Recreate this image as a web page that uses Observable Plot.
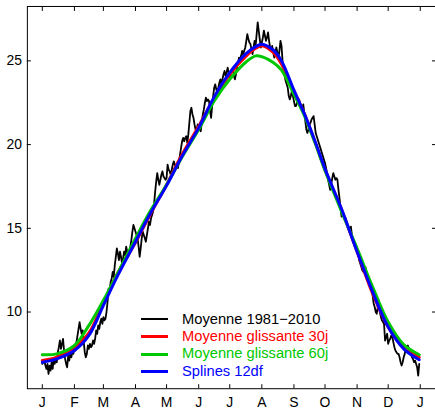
<!DOCTYPE html>
<html><head><meta charset="utf-8">
<script src="https://cdn.jsdelivr.net/npm/d3@7"></script>
<script src="https://cdn.jsdelivr.net/npm/@observablehq/plot@0.6"></script>
<style>
html,body{margin:0;padding:0;background:#fff;overflow:hidden;}
#wrap{position:relative;width:435px;height:409px;overflow:hidden;font-family:"Liberation Sans",Arial,sans-serif;}
#legend{position:absolute;left:141px;top:310.6px;font-size:14.7px;line-height:17.4px;}
#legend .row{display:flex;align-items:center;height:17.4px;white-space:nowrap;}
#legend .sw{width:27px;height:3px;margin-right:14px;}
</style></head>
<body><div id="wrap"><div id="chart"></div>
<div id="legend"></div></div>
<script>
// Month tick positions (day of year) and labels
const monthStartDays = [1,32,60,91,121,152,182,213,244,274,305,335,366];
const monthLabels = ["J","F","M","A","M","J","J","A","S","O","N","D","J"];
const yTicks = [10,15,20,25];

// Daily mean 1981–2010 (day 1..365)
const dailyMean = [
// Jan
6.9,7.0,7.1,6.8,6.6,6.9,6.3,6.8,6.5,7.0,6.6,7.2,6.9,7.3,7.0,7.6,7.9,8.3,7.8,8.1,8.4,7.7,7.2,6.9,6.7,7.4,7.1,7.5,7.3,7.6,7.5,
// Feb
7.8,7.7,8.2,8.6,9.0,9.4,9.0,8.7,8.9,8.2,7.6,7.3,7.5,8.0,7.8,8.1,7.9,8.0,8.3,8.1,8.4,8.9,8.7,9.2,9.0,9.4,9.6,9.3,
// Mar
9.7,9.5,9.6,10.0,10.6,11.4,11.2,11.8,12.0,12.4,12.1,12.8,13.3,13.8,13.5,13.1,13.6,13.3,12.9,13.2,13.6,13.4,13.9,13.6,13.3,13.5,13.9,14.3,14.8,15.2,15.0,
// Apr
14.8,14.6,14.4,13.9,13.3,13.8,14.4,14.8,14.6,14.4,14.2,14.6,15.0,15.4,15.2,15.6,15.8,16.0,16.5,17.2,17.8,18.3,17.9,17.6,17.9,18.2,18.4,18.1,18.0,17.9,
// May
18.0,18.8,18.5,18.4,18.2,18.5,18.8,19.0,18.8,18.6,18.7,18.6,19.0,19.4,19.8,20.2,20.4,20.2,20.4,20.5,20.1,20.6,21.3,22.0,22.2,21.8,21.6,21.2,20.9,20.8,21.2,
// Jun
21.0,20.9,20.8,21.3,21.8,22.1,22.5,22.8,22.6,22.7,22.6,22.0,21.6,22.3,22.9,23.4,23.6,23.3,23.1,23.4,23.7,23.9,23.6,23.9,24.2,24.4,24.1,24.3,24.6,24.3,
// Jul
24.0,24.2,24.4,24.6,24.1,23.9,24.2,24.6,24.9,25.2,25.1,25.3,25.6,25.4,25.6,25.8,26.2,26.6,26.3,26.1,26.0,25.7,25.4,25.8,26.2,25.9,26.6,27.3,26.8,26.3,25.8,
// Aug
26.1,26.4,26.8,26.5,26.2,26.4,26.7,26.2,25.8,25.6,25.9,25.5,25.2,25.5,25.8,25.5,25.2,25.6,26.2,25.9,25.0,24.6,24.1,23.8,23.6,23.4,22.9,22.7,22.9,23.2,22.9,
// Sep
22.6,22.3,22.3,22.5,22.7,22.7,22.4,22.2,22.1,22.4,21.9,21.4,20.9,20.7,20.9,21.2,21.3,21.5,21.6,21.7,21.2,20.7,20.5,20.3,20.1,19.9,19.7,19.5,19.3,19.1,
// Oct
18.9,18.6,18.3,17.9,17.6,17.3,17.6,18.0,18.3,18.1,17.9,18.0,17.9,17.3,16.8,16.2,15.7,15.9,15.7,15.5,15.6,15.3,15.2,14.9,14.9,15.1,14.6,14.3,14.1,14.0,13.8,
// Nov
13.7,13.5,13.1,12.9,12.7,12.5,12.4,12.5,12.7,12.4,12.2,12.1,11.9,11.7,11.5,11.0,10.5,10.3,10.0,9.9,10.3,10.7,10.0,9.7,9.5,9.4,9.3,8.3,8.5,8.7,
// Dec
8.1,8.3,8.4,8.6,8.5,8.2,7.9,7.7,7.6,7.5,7.5,7.3,7.0,6.8,7.0,7.3,7.5,7.8,7.9,8.0,7.8,7.7,7.5,7.3,7.2,7.0,7.1,6.9,6.7,6.2,6.9
];

// Smoothed curves, sampled at these days
const knotDays = [1,15,32,46,60,74,91,105,121,135,152,167,182,198,207,213,224,232,244,254,265,274,290,305,320,335,350,365];
const ma30 =     [7.1,7.3,7.9,8.75,10.55,12.35,14.15,15.8,17.6,19.3,21.1,22.8,24.2,25.3,25.75,25.9,25.5,24.8,23.2,21.85,20.05,18.5,16.1,13.6,11.1,9.1,7.9,7.3];
const ma60 =     [7.45,7.5,8.0,9.2,10.7,12.35,14.4,16.0,17.6,19.15,20.9,22.6,23.9,24.95,25.3,25.25,24.9,24.45,23.0,21.75,20.0,18.45,16.0,13.8,11.5,9.4,8.05,7.45];
const spline12 = [7.0,7.2,7.7,8.6,10.4,12.2,14.2,15.85,17.55,19.2,21.0,22.85,24.3,25.45,25.85,26.0,25.65,25.0,23.25,21.85,20.1,18.55,16.15,13.6,11.2,9.1,7.8,7.15];

const seriesNames = ["Moyenne 1981\u22122010","Moyenne glissante 30j","Moyenne glissante 60j","Splines 12df"];
const seriesColors = ["#000000","#ff0000","#00c800","#0000ff"];

const daily = dailyMean.map((t,i)=>({day:i+1,t}));
const smooth = (vals)=>vals.map((t,i)=>({day:knotDays[i],t}));

const labelOf = new Map(monthStartDays.map((d,i)=>[d,monthLabels[i]]));

const chart = Plot.plot({
  width: 437, height: 409,
  marginLeft: 27, marginRight: 0, marginTop: 6, marginBottom: 19,
  x: {domain: [-13.42, 380.7], label: null},
  y: {domain: [5.42, 28.25], label: null},
  style: {fontFamily: "'Liberation Sans', Arial, sans-serif", fontSize: "14px", color: "black", background: "white", overflow: "visible"},
  marks: [
    Plot.line(daily, {x:"day", y:"t", stroke: seriesColors[0], strokeWidth: 1.8}),
    Plot.line(smooth(ma30), {x:"day", y:"t", stroke: seriesColors[1], strokeWidth: 3, curve:"catmull-rom"}),
    Plot.line(smooth(ma60), {x:"day", y:"t", stroke: seriesColors[2], strokeWidth: 3, curve:"catmull-rom"}),
    Plot.line(smooth(spline12), {x:"day", y:"t", stroke: seriesColors[3], strokeWidth: 3, curve:"catmull-rom"}),
    Plot.frame({stroke:"black"}),
    Plot.axisX(monthStartDays, {anchor:"bottom", tickSize:-4, tickPadding:12.5, tickFormat: d=>labelOf.get(d), label:null}),
    Plot.axisX(monthStartDays, {anchor:"top", tickSize:-4, tickFormat: ()=>"", label:null}),
    Plot.axisY(yTicks, {anchor:"left", tickSize:-4, tickPadding:9.3, label:null}),
    Plot.axisY(yTicks, {anchor:"right", tickSize:-4, tickFormat: ()=>"", label:null})
  ]
});
document.getElementById("chart").appendChild(chart);

const legend = document.getElementById("legend");
seriesNames.forEach((name,i)=>{
  const row = document.createElement("div");
  row.className = "row";
  const sw = document.createElement("span");
  sw.className = "sw";
  sw.style.background = seriesColors[i];
  if (i===0) sw.style.height = "2px";
  const tx = document.createElement("span");
  tx.textContent = name;
  tx.style.color = seriesColors[i];
  row.appendChild(sw); row.appendChild(tx);
  legend.appendChild(row);
});
</script></body></html>
